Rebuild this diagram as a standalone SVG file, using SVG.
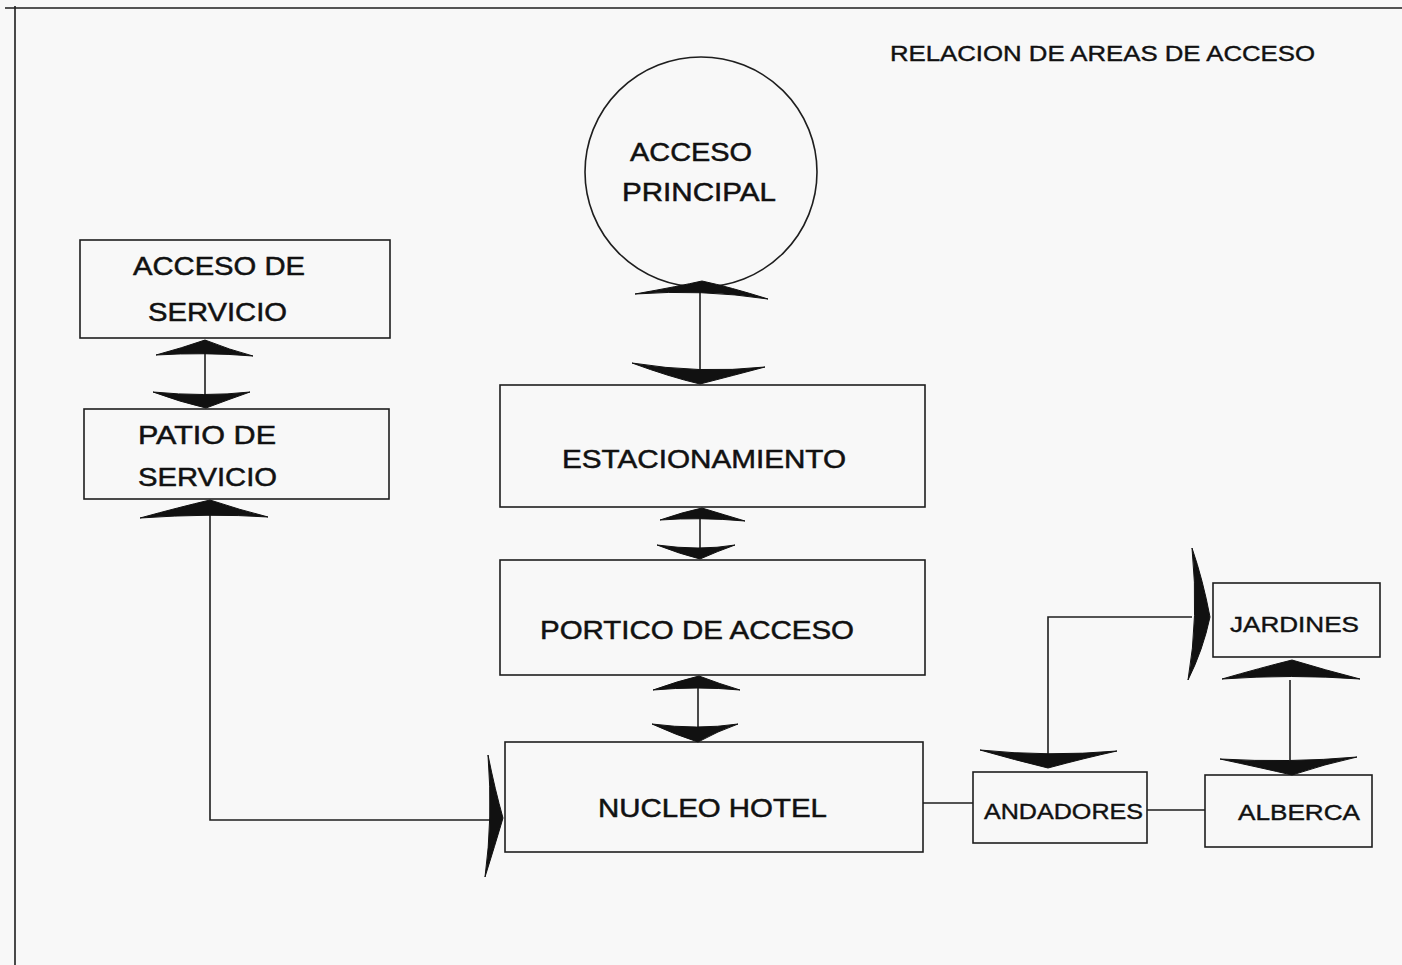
<svg xmlns="http://www.w3.org/2000/svg" width="1402" height="965" viewBox="0 0 1402 965">
<style>
.bx{fill:none;stroke:#1e1e1e;stroke-width:1.6}
.ln{fill:none;stroke:#1e1e1e;stroke-width:1.6}
.ah{fill:#111;stroke:#111;stroke-width:1}
.t{font-family:"Liberation Sans",Arial,sans-serif;font-size:26px;fill:#111;stroke:#111;stroke-width:0.5}
.s{font-family:"Liberation Sans",Arial,sans-serif;font-size:22px;fill:#111;stroke:#111;stroke-width:0.4}
</style>
<rect width="1402" height="965" fill="#f8f8f8"/>
<g id="frame">
<path class="ln" d="M5 8 L1402 8 M15 6 L15 965" stroke-width="2.2"/>
</g>
<g id="title"><text class="s" x="890" y="61" textLength="425" lengthAdjust="spacingAndGlyphs" font-size="21">RELACION DE AREAS DE ACCESO</text></g>
<g id="acceso-principal">
<ellipse class="bx" cx="701" cy="172" rx="116" ry="115"/>
<text class="t" x="630" y="161" textLength="122" lengthAdjust="spacingAndGlyphs">ACCESO</text>
<text class="t" x="622" y="201" textLength="154" lengthAdjust="spacingAndGlyphs">PRINCIPAL</text>
</g>
<g id="acceso-servicio">
<rect class="bx" x="80" y="240" width="310" height="98"/>
<text class="t" x="133" y="275" textLength="172" lengthAdjust="spacingAndGlyphs">ACCESO DE</text>
<text class="t" x="148" y="321" textLength="139" lengthAdjust="spacingAndGlyphs">SERVICIO</text>
</g>
<g id="patio-servicio">
<rect class="bx" x="84" y="409" width="305" height="90"/>
<text class="t" x="138" y="444" textLength="138" lengthAdjust="spacingAndGlyphs">PATIO DE</text>
<text class="t" x="138" y="486" textLength="139" lengthAdjust="spacingAndGlyphs">SERVICIO</text>
</g>
<g id="estacionamiento">
<rect class="bx" x="500" y="385" width="425" height="122"/>
<text class="t" x="562" y="468" textLength="284" lengthAdjust="spacingAndGlyphs">ESTACIONAMIENTO</text>
</g>
<g id="portico">
<rect class="bx" x="500" y="560" width="425" height="115"/>
<text class="t" x="540" y="639" textLength="314" lengthAdjust="spacingAndGlyphs">PORTICO DE ACCESO</text>
</g>
<g id="nucleo">
<rect class="bx" x="505" y="742" width="418" height="110"/>
<text class="t" x="598" y="817" textLength="229" lengthAdjust="spacingAndGlyphs">NUCLEO HOTEL</text>
</g>
<g id="andadores">
<rect class="bx" x="973" y="772" width="174" height="71"/>
<text class="s" x="984" y="819" textLength="159" lengthAdjust="spacingAndGlyphs">ANDADORES</text>
</g>
<g id="alberca">
<rect class="bx" x="1205" y="775" width="167" height="72"/>
<text class="s" x="1238" y="820" textLength="122" lengthAdjust="spacingAndGlyphs">ALBERCA</text>
</g>
<g id="jardines">
<rect class="bx" x="1213" y="583" width="167" height="74"/>
<text class="s" x="1230" y="632" textLength="129" lengthAdjust="spacingAndGlyphs">JARDINES</text>
</g>
<g id="connectors">
<path class="ln" d="M700 290 L700 382"/>
<path class="ah" d="M702 281 Q730 287 768 299 Q702 289 635 294 Q680 286 702 281 Z"/>
<path class="ah" d="M700 384 Q735 375 765 367 Q700 374 632 363 Q670 377 700 384 Z"/>
<path class="ln" d="M205 340 L205 407"/>
<path class="ah" d="M205 340 Q230 350 253 356 Q205 352 156 355 Q182 348 205 340 Z"/>
<path class="ah" d="M206 408 Q230 399 250 392 Q205 397 153 392 Q180 402 206 408 Z"/>
<path class="ln" d="M210 505 L210 820 L492 820"/>
<path class="ah" d="M210 500 Q240 510 268 517 Q210 513 140 518 Q180 507 210 500 Z"/>
<path class="ah" d="M503 818 Q495 790 488 755 Q493 818 485 877 Q495 845 503 818 Z"/>
<path class="ln" d="M700 510 L700 557"/>
<path class="ah" d="M702 508 Q725 515 745 521 Q700 517 660 520 Q683 512 702 508 Z"/>
<path class="ah" d="M700 559 Q718 551 735 545 Q700 551 657 545 Q680 554 700 559 Z"/>
<path class="ln" d="M698 678 L698 740"/>
<path class="ah" d="M699 676 Q720 684 740 690 Q698 686 653 690 Q678 681 699 676 Z"/>
<path class="ah" d="M698 742 Q718 731 738 724 Q698 730 652 724 Q676 735 698 742 Z"/>
<path class="ln" d="M923 803 L973 803"/>
<path class="ln" d="M1147 810 L1205 810"/>
<path class="ln" d="M1048 757 L1048 617 L1192 617"/>
<path class="ah" d="M1048 768 Q1085 758 1117 751 Q1048 757 980 750 Q1015 760 1048 768 Z"/>
<path class="ah" d="M1210 617 Q1203 580 1192 548 Q1199 617 1188 680 Q1203 650 1210 617 Z"/>
<path class="ln" d="M1290 680 L1290 760"/>
<path class="ah" d="M1292 660 Q1325 670 1360 679 Q1292 674 1222 679 Q1260 668 1292 660 Z"/>
<path class="ah" d="M1292 775 Q1325 764 1357 757 Q1290 763 1220 759 Q1262 768 1292 775 Z"/>
</g>
</svg>
